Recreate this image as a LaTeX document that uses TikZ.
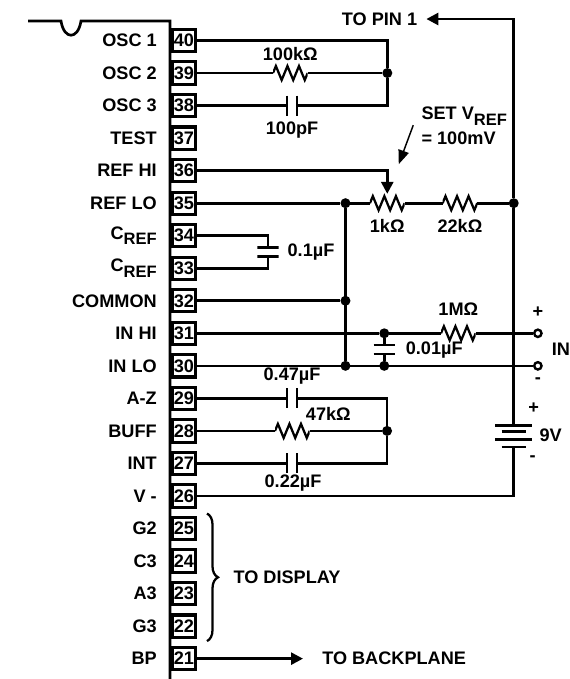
\documentclass[tikz,border=0pt]{standalone}
\usepackage{fontspec}
\setmainfont{Liberation Sans}
\usepackage{tikz}
\usetikzlibrary{positioning,calc,arrows.meta,decorations.pathreplacing}
\tikzstyle{txt}=[inner sep=0pt,font=\bfseries\fontsize{13.6}{18.75}\selectfont]
\tikzstyle{pinbox}=[txt,draw,line width=2.3pt,minimum width=17.2pt,minimum height=16.7pt]
\tikzstyle{wire}=[line width=2pt]
\tikzstyle{arrow}=[wire,-{Triangle[length=9pt,width=9pt]}]
\tikzstyle{dot}=[circle,fill=black,inner sep=0pt,minimum size=7.5pt,outer sep=0pt]
\tikzstyle{term}=[circle,draw,fill=white,line width=1.8pt,inner sep=0pt,minimum size=5.5pt]
\tikzstyle{res}=[inner sep=0pt,outer sep=0pt,minimum width=26pt,minimum height=14pt,
  path picture={\draw[line width=1.7pt,line join=miter] (path picture bounding box.west)
    -- ++(2.17pt,5.25pt) -- ++(4.33pt,-10.5pt) -- ++(4.33pt,10.5pt) -- ++(4.33pt,-10.5pt)
    -- ++(4.33pt,10.5pt) -- ++(4.33pt,-10.5pt) -- ++(2.17pt,5.25pt);}]
\tikzstyle{caph}=[inner sep=0pt,outer sep=0pt,minimum width=9.6pt,minimum height=15pt,
  path picture={\draw[wire] ([xshift=-3.8pt]path picture bounding box.north) -- ([xshift=-3.8pt]path picture bounding box.south);
    \draw[wire] ([xshift=3.8pt]path picture bounding box.north) -- ([xshift=3.8pt]path picture bounding box.south);}]
\tikzstyle{capv}=[inner sep=0pt,outer sep=0pt,minimum width=16pt,minimum height=8.8pt,
  path picture={\draw[wire] ([yshift=3.4pt]path picture bounding box.west) -- ([yshift=3.4pt]path picture bounding box.east);
    \draw[wire] ([yshift=-3.4pt]path picture bounding box.west) -- ([yshift=-3.4pt]path picture bounding box.east);}]
\tikzstyle{battery}=[inner sep=0pt,outer sep=0pt,minimum width=28pt,minimum height=18pt,
  path picture={\draw[wire] ([yshift=8pt]path picture bounding box.west) -- ([yshift=8pt]path picture bounding box.east);
    \draw[wire] ([shift={(-9pt,3.4pt)}]path picture bounding box.center) -- ++(18pt,0pt);
    \draw[wire] ([yshift=-2.6pt]path picture bounding box.west) -- ([yshift=-2.6pt]path picture bounding box.east);
    \draw[wire] ([shift={(-9pt,-8pt)}]path picture bounding box.center) -- ++(18pt,0pt);}]
\newcommand{\lowref}{\raisebox{-.3em}{\fontsize{12.4}{12.4}\selectfont REF}}
\begin{document}
\begin{tikzpicture}[x=0.75pt,y=-0.75pt,node distance=5.4pt]
\useasboundingbox (0,0) rectangle (569,679);
% pins
\node (p40) [pinbox] at (184,40.5) {40};
\node (p39) [pinbox,below=of p40] {39};
\node (p38) [pinbox,below=of p39] {38};
\node (p37) [pinbox,below=of p38] {37};
\node (p36) [pinbox,below=of p37] {36};
\node (p35) [pinbox,below=of p36] {35};
\node (p34) [pinbox,below=of p35] {34};
\node (p33) [pinbox,below=of p34] {33};
\node (p32) [pinbox,below=of p33] {32};
\node (p31) [pinbox,below=of p32] {31};
\node (p30) [pinbox,below=of p31] {30};
\node (p29) [pinbox,below=of p30] {29};
\node (p28) [pinbox,below=of p29] {28};
\node (p27) [pinbox,below=of p28] {27};
\node (p26) [pinbox,below=of p27] {26};
\node (p25) [pinbox,below=of p26] {25};
\node (p24) [pinbox,below=of p25] {24};
\node (p23) [pinbox,below=of p24] {23};
\node (p22) [pinbox,below=of p23] {22};
\node (p21) [pinbox,below=of p22] {21};
% pin names
\node (n40) [txt,left=10.5pt of p40] {OSC 1};
\node (n39) [txt,left=10.5pt of p39] {OSC 2};
\node (n38) [txt,left=10.5pt of p38] {OSC 3};
\node (n37) [txt,left=10.5pt of p37] {TEST};
\node (n36) [txt,left=10.5pt of p36] {REF HI};
\node (n35) [txt,left=10.5pt of p35] {REF LO};
\node (n34) [txt,left=10.5pt of p34] {C\lowref};
\node (n33) [txt,left=10.5pt of p33] {C\lowref};
\node (n32) [txt,left=10.5pt of p32] {COMMON};
\node (n31) [txt,left=10.5pt of p31] {IN HI};
\node (n30) [txt,left=10.5pt of p30] {IN LO};
\node (n29) [txt,left=10.5pt of p29] {A-Z};
\node (n28) [txt,left=10.5pt of p28] {BUFF};
\node (n27) [txt,left=10.5pt of p27] {INT};
\node (n26) [txt,left=10.5pt of p26] {V -};
\node (n25) [txt,left=10.5pt of p25] {G2};
\node (n24) [txt,left=10.5pt of p24] {C3};
\node (n23) [txt,left=10.5pt of p23] {A3};
\node (n22) [txt,left=10.5pt of p22] {G3};
\node (n21) [txt,left=10.5pt of p21] {BP};
% chip outline
\coordinate (ica) at (28,21);
\coordinate (icb) at (170,21);
\coordinate (icc) at (170,679);
\draw[line width=2pt] (ica) -- (61,21) .. controls (64,40) and (78,40) .. (81,21) -- (icb) -- (icc);
% oscillator
\node (r39) [res,right=57pt of p39] {};
\node (c38) [caph,right=66.5pt of p38] {};
\node (j1) [dot,right=56pt of r39] {};
\draw[wire] (p40) -| (j1);
\draw[wire] (p39) -- (r39);
\draw[wire] (r39) -- (j1);
\draw[wire] (p38) -- (c38);
\draw[wire] (c38) -| (j1);
\node (v39) [txt] at ($(r39)+(0,-19)$) {100kΩ};
\node (v38) [txt] at ($(c38)+(0,24)$) {100pF};
% reference
\node (j2) [dot,right=107.6pt of p35] {};
\node (rp) [res,right=14.6pt of j2] {};
\node (r22) [res,right=28.5pt of rp] {};
\node (j5) [dot,right=23.6pt of r22] {};
\draw[wire] (p35) -- (j2);
\draw[wire] (j2) -- (rp);
\draw[wire] (rp) -- (r22);
\draw[wire] (r22) -- (j5);
\draw[arrow] (p36) -| (rp.north);
\node (v1k) [txt] at ($(rp)+(0,23)$) {1kΩ};
\node (v22) [txt] at ($(r22)+(0,23)$) {22kΩ};
\node (vset) [txt,align=left] at ($(rp)+(77,-77)$) {SET V\lowref\\= 100mV};
\coordinate (sa) at ($(vset.west)+(-8,-1)$);
\coordinate (sb) at ($(rp)+(11.5,-39)$);
\draw[line width=1.1pt,-{Triangle[length=10.5pt,width=8pt]}] (sa) -- (sb);
\node (tp) [txt] at (379.5,19) {TO PIN 1};
\coordinate (tpa) at ($(tp.east)+(9,0)$);
\draw[arrow] (j5) |- (tpa);
% integrator ref cap
\node (c34) [capv] at ($(p34.east)!.5!(p33.east)+(71,0)$) {};
\draw[wire] (p34) -| (c34.north);
\draw[wire] (p33) -| (c34.south);
\node (v34) [txt] at ($(c34)+(43,0)$) {0.1µF};
% input
\node (j3) [dot] at (j2 |- p32) {};
\node (j4) [dot] at (j2 |- p30) {};
\node (j6) [dot,right=136.7pt of p31] {};
\node (j7) [dot] at (j6 |- p30) {};
\node (r31) [res,right=38.8pt of j6] {};
\node (t1) [term,right=43pt of r31] {};
\node (t2) [term] at (t1 |- p30) {};
\node (c31) [capv] at ($(j6)!.5!(j7)$) {};
\draw[wire] (j2) -- (j4);
\draw[wire] (p32) -- (j3);
\draw[wire] (p31) -- (j6);
\draw[wire] (j6) -- (r31);
\draw[wire] (r31) -- (t1);
\draw[wire] (p30) -- (t2);
\draw[wire] (j6) -- (c31);
\draw[wire] (c31) -- (j7);
\node (v31) [txt] at ($(r31)+(0,-24)$) {1MΩ};
\node (vc31) [txt] at ($(c31)+(50,0)$) {0.01µF};
\node (tplus) [txt] at ($(t1)+(0,-21)$) {+};
\node (tminus) [txt] at ($(t2)+(0,15)$) {-};
\node (tin) [txt] at ($(t1)!.5!(t2)+(23,0)$) {IN};
% battery
\node (bat) [battery,below=162pt of j5] {};
\draw[wire] (j5) -- (bat.north);
\draw[wire] (p26) -| (bat.south);
\node (bplus) [txt] at ($(bat)+(20,-28)$) {+};
\node (bminus) [txt] at ($(bat)+(19,22)$) {-};
\node (v9) [txt] at ($(bat)+(37,-1)$) {9V};
% auto zero and integrator
\node (c29) [caph,right=66.5pt of p29] {};
\node (r28) [res,right=58.5pt of p28] {};
\node (c27) [caph,right=66.5pt of p27] {};
\node (j8) [dot,right=54.3pt of r28] {};
\draw[wire] (p29) -- (c29);
\draw[wire] (c29) -| (j8);
\draw[wire] (p28) -- (r28);
\draw[wire] (r28) -- (j8);
\draw[wire] (p27) -- (c27);
\draw[wire] (c27) -| (j8);
\node (v29) [txt] at ($(c29)+(0,-22)$) {0.47µF};
\node (v28) [txt] at ($(r28)+(36,-17)$) {47kΩ};
\node (v27) [txt] at ($(c27)+(1,20)$) {0.22µF};
% display and backplane
\coordinate (bt) at ($(p25)+(23,-15)$);
\coordinate (bb) at ($(p22)+(23,15)$);
\draw[line width=1.7pt,decorate,decoration={brace,amplitude=8.25pt}] (bt) -- (bb);
\node (disp) [txt] at ($(bt)!.5!(bb)+(80,0)$) {TO DISPLAY};
\coordinate (bpa) at ($(p21.east)+(106,0)$);
\draw[arrow] (p21) -- (bpa);
\node (bp) [txt,right=93.75pt of p21] {TO BACKPLANE};
\end{tikzpicture}
\end{document}
